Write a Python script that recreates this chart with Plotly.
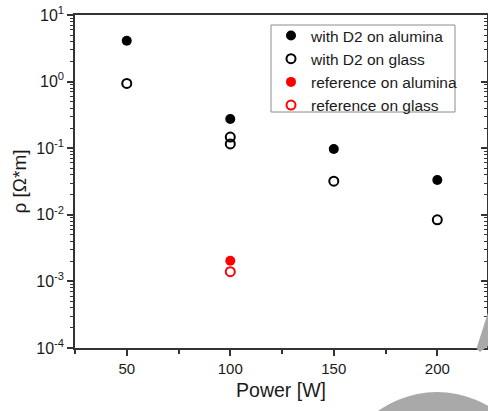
import plotly.graph_objects as go

# Resistivity vs. deposition power
power_d2_alumina = [50, 100, 150, 200]
rho_d2_alumina = [4.1, 0.274, 0.097, 0.0333]

power_d2_glass = [50, 100, 100, 150, 200]
rho_d2_glass = [0.94, 0.147, 0.116, 0.032, 0.0084]

power_ref_alumina = [100]
rho_ref_alumina = [0.00204]

power_ref_glass = [100]
rho_ref_glass = [0.0014]

decades = [-4, -3, -2, -1, 0, 1]
y_tickvals = [10.0 ** d for d in decades]
y_ticktext = [f"10<sup>{d}</sup>" for d in decades]
y_minor = [m * 10.0 ** d for d in decades[:-1] for m in range(2, 10)]

FONT = "Liberation Sans, Arial, sans-serif"
AXIS_COLOR = "#333333"

W, H = 488, 411
L, R, T, B = 75, 1, 15, 63
PW, PH = W - L - R, H - T - B


def px_to_paper(px, py):
    return (px - L) / PW, (H - B - py) / PH


fig = go.Figure()

fig.add_trace(go.Scatter(
    x=power_d2_alumina, y=rho_d2_alumina, mode="markers",
    name="with D2 on alumina",
    marker=dict(symbol="circle", size=10, color="black"),
))
fig.add_trace(go.Scatter(
    x=power_d2_glass, y=rho_d2_glass, mode="markers",
    name="with D2 on glass",
    marker=dict(symbol="circle-open", size=9, color="black", line=dict(width=2)),
))
fig.add_trace(go.Scatter(
    x=power_ref_alumina, y=rho_ref_alumina, mode="markers",
    name="reference on alumina",
    marker=dict(symbol="circle", size=10, color="#ff0000"),
))
fig.add_trace(go.Scatter(
    x=power_ref_glass, y=rho_ref_glass, mode="markers",
    name="reference on glass",
    marker=dict(symbol="circle-open", size=9, color="#ff0000", line=dict(width=2)),
))
# carrier for the right-hand tick axis
fig.add_trace(go.Scatter(x=[None], y=[None], yaxis="y2", showlegend=False,
                         hoverinfo="skip"))

# legend frame
lx0, ly0 = px_to_paper(271, 25)
lx1, ly1 = px_to_paper(455, 112)
_, leg_top = px_to_paper(271, 19)
shapes = [dict(type="rect", xref="paper", yref="paper",
               x0=lx0, y0=ly1, x1=lx1, y1=ly0,
               line=dict(color="#8c8c8c", width=1), fillcolor="rgba(0,0,0,0)")]

# grey overlay pieces at the lower right
cx0, cy0 = px_to_paper(336, 392)
cx1, cy1 = px_to_paper(538, 594)
shapes.append(dict(type="circle", xref="paper", yref="paper",
                   x0=cx0, y0=cy1, x1=cx1, y1=cy0,
                   fillcolor="#a9a9a9", line=dict(width=0), layer="above"))
wedge = [px_to_paper(*p) for p in [(492, 300), (476.5, 348.5), (480, 352), (492, 343)]]
path = "M " + " L ".join(f"{x:.4f},{y:.4f}" for x, y in wedge) + " Z"
shapes.append(dict(type="path", xref="paper", yref="paper", path=path,
                   fillcolor="#a9a9a9", line=dict(width=0), layer="above"))

fig.update_layout(
    width=W, height=H,
    margin=dict(l=L, r=R, t=T, b=B, autoexpand=False),
    paper_bgcolor="white", plot_bgcolor="white",
    font=dict(family=FONT, color="#1a1a1a"),
    showlegend=True,
    legend=dict(
        x=lx0, y=leg_top, xanchor="left", yanchor="top",
        bgcolor="rgba(0,0,0,0)", borderwidth=0,
        font=dict(family=FONT, size=15.5, color="#1a1a1a"),
        itemclick=False, tracegroupgap=0,
    ),
    xaxis=dict(
        range=[25, 224], tickmode="linear", tick0=0, dtick=50,
        ticks="outside", ticklen=6, tickwidth=1.5, tickcolor=AXIS_COLOR,
        minor=dict(tickmode="linear", tick0=25, dtick=50, ticks="outside",
                   ticklen=4, tickwidth=1.5, tickcolor=AXIS_COLOR),
        showline=True, linecolor=AXIS_COLOR, linewidth=1.5, mirror=True,
        showgrid=False, zeroline=False,
        tickfont=dict(size=15, family=FONT, color="#1a1a1a"),
        title=dict(text="Power [W]", font=dict(size=19.5, family=FONT, color="#1a1a1a"),
                   standoff=8),
    ),
    yaxis=dict(
        type="log", range=[-4, 1],
        tickmode="array", tickvals=y_tickvals, ticktext=y_ticktext,
        ticks="outside", ticklen=6, tickwidth=1.5, tickcolor=AXIS_COLOR,
        minor=dict(tickvals=y_minor, ticks="outside", ticklen=3,
                   tickwidth=1, tickcolor=AXIS_COLOR),
        showline=True, linecolor=AXIS_COLOR, linewidth=1.5, mirror=True,
        showgrid=False, zeroline=False,
        tickfont=dict(size=16, family=FONT, color="#1a1a1a"),
        title=dict(text="ρ [Ω*m]", font=dict(size=19, family=FONT, color="#1a1a1a"),
                   standoff=5),
    ),
    yaxis2=dict(
        type="log", range=[-4, 1], overlaying="y", side="right",
        tickmode="array", tickvals=y_tickvals, showticklabels=False,
        ticks="inside", ticklen=6, tickwidth=1.5, tickcolor=AXIS_COLOR,
        minor=dict(tickvals=y_minor, ticks="inside", ticklen=3,
                   tickwidth=1, tickcolor=AXIS_COLOR),
        showline=False, showgrid=False, zeroline=False,
    ),
    shapes=shapes,
)

fig.write_html("out.html")
